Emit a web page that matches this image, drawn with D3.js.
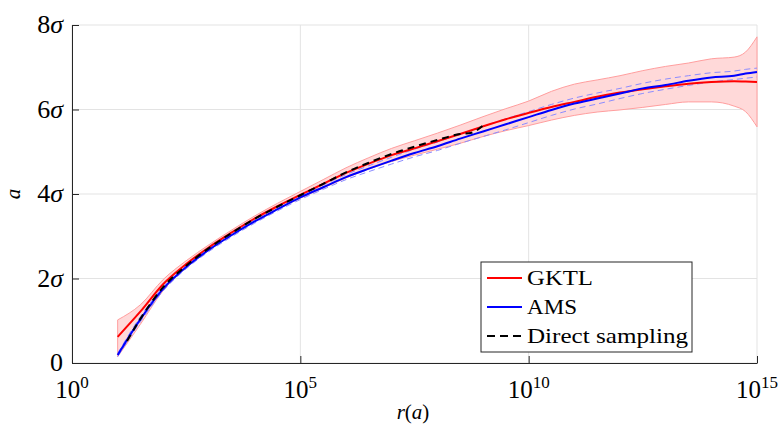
<!DOCTYPE html>
<html>
<head>
<meta charset="utf-8">
<script src="https://cdn.jsdelivr.net/npm/d3@7"></script>
<style>
  html, body { margin: 0; padding: 0; background: #fff; }
  svg { display: block; }
  text { font-family: "Liberation Serif", "DejaVu Serif", serif; fill: #000; }
</style>
</head>
<body>
<svg id="chart" width="780" height="430"></svg>
<script>
// r grid (half-decade steps) shared by the GKTL and AMS estimates
const rGrid = [1e1, 3.16e1, 1e2, 3.16e2, 1e3, 3.16e3, 1e4, 3.16e4, 1e5, 3.16e5,
  1e6, 3.16e6, 1e7, 3.16e7, 1e8, 3.16e8, 1e9, 3.16e9, 1e10, 3.16e10,
  1e11, 3.16e11, 1e12, 3.16e12, 1e13, 3.16e13, 1e14, 3.16e14, 5.62e14, 1e15];

// return level a (in units of sigma)
const gktl = [0.62, 1.22, 1.87, 2.34, 2.74, 3.09, 3.42, 3.71, 3.98, 4.24,
  4.50, 4.72, 4.92, 5.08, 5.25, 5.42, 5.60, 5.77, 5.92, 6.06,
  6.18, 6.30, 6.40, 6.48, 6.55, 6.61, 6.65, 6.67, 6.66, 6.65];
const gktlLo = [0.15, 0.92, 1.72, 2.26, 2.67, 3.03, 3.36, 3.64, 3.90, 4.14,
  4.38, 4.59, 4.77, 4.92, 5.06, 5.20, 5.36, 5.50, 5.62, 5.75,
  5.86, 5.94, 5.99, 6.05, 6.12, 6.18, 6.18, 6.08, 5.95, 5.59];
const gktlHi = [1.02, 1.38, 1.98, 2.42, 2.80, 3.15, 3.48, 3.78, 4.06, 4.34,
  4.62, 4.86, 5.08, 5.26, 5.44, 5.63, 5.83, 6.02, 6.20, 6.43,
  6.60, 6.70, 6.80, 6.92, 7.02, 7.10, 7.20, 7.24, 7.36, 7.72];

const ams = [0.19, 1.04, 1.76, 2.27, 2.68, 3.03, 3.35, 3.64, 3.92, 4.16,
  4.40, 4.60, 4.79, 4.97, 5.13, 5.31, 5.48, 5.65, 5.82, 5.99,
  6.14, 6.26, 6.38, 6.50, 6.58, 6.68, 6.76, 6.80, 6.85, 6.89];
const amsLo = [0.15, 0.98, 1.71, 2.23, 2.64, 2.99, 3.31, 3.60, 3.87, 4.11,
  4.34, 4.53, 4.71, 4.88, 5.03, 5.20, 5.36, 5.52, 5.69, 5.86,
  6.01, 6.13, 6.26, 6.38, 6.48, 6.57, 6.65, 6.71, 6.74, 6.77];
const amsHi = [0.23, 1.10, 1.81, 2.31, 2.72, 3.07, 3.39, 3.68, 3.97, 4.21,
  4.46, 4.67, 4.87, 5.06, 5.23, 5.42, 5.60, 5.78, 5.95, 6.12,
  6.27, 6.39, 6.50, 6.62, 6.72, 6.80, 6.87, 6.91, 6.95, 6.98];

// direct sampling only reaches r ~ 1e9
const rDirect = [1.6e1, 3.16e1, 1e2, 3.16e2, 1e3, 3.16e3, 1e4, 3.16e4, 1e5, 3.16e5,
  1e6, 3.16e6, 1e7, 3.16e7, 1e8, 3.16e8, 5.62e8, 1e9];
const direct = [0.52, 1.05, 1.80, 2.30, 2.72, 3.08, 3.41, 3.70, 3.97, 4.24,
  4.51, 4.74, 4.95, 5.12, 5.28, 5.42, 5.45, 5.62];

const xTickValues = [1e0, 1e5, 1e10, 1e15];
const xTickExponents = ["0", "5", "10", "15"];
const yTickValues = [0, 2, 4, 6, 8];
const yTickLabels = ["0", "2", "4", "6", "8"];

const legendNames = ["GKTL", "AMS", "Direct sampling"];
const legendColors = ["#ff0000", "#0000ff", "#000000"];
const legendTextWidths = [66, 50, 161];

const svg = d3.select("#chart");
const L = 72, R = 757, T = 25, B = 363;

const x = d3.scaleLog().domain([1e0, 1e15]).range([L, R]);
const y = d3.scaleLinear().domain([0, 8]).range([B, T]);

// grid
const grid = svg.append("g").attr("stroke", "#e3e3e3").attr("stroke-width", 1);
xTickValues.forEach(v => grid.append("line")
  .attr("x1", x(v)).attr("x2", x(v)).attr("y1", T).attr("y2", B));
yTickValues.forEach(v => grid.append("line")
  .attr("x1", L).attr("x2", R).attr("y1", y(v)).attr("y2", y(v)));

const curve = d3.curveMonotoneX;

// GKTL confidence band
const band = d3.area()
  .curve(curve)
  .x((d, i) => x(rGrid[i]))
  .y0((d, i) => y(gktlLo[i]))
  .y1((d, i) => y(gktlHi[i]));
svg.append("path").datum(gktl)
  .attr("d", band)
  .attr("fill", "#ffd9d9")
  .attr("stroke", "#ff9e9e")
  .attr("stroke-width", 1);

const lineOn = (xs) => d3.line().curve(curve).x((d, i) => x(xs[i])).y(d => y(d));

// AMS spread (thin dashed)
[amsLo, amsHi].forEach(s => svg.append("path").datum(s)
  .attr("d", lineOn(rGrid))
  .attr("fill", "none")
  .attr("stroke", "#8c8cff")
  .attr("stroke-width", 1)
  .attr("stroke-dasharray", "6,4"));

svg.append("path").datum(gktl)
  .attr("d", lineOn(rGrid))
  .attr("fill", "none").attr("stroke", "#ff0000").attr("stroke-width", 2);

svg.append("path").datum(ams)
  .attr("d", lineOn(rGrid))
  .attr("fill", "none").attr("stroke", "#0000ff").attr("stroke-width", 2);

svg.append("path").datum(direct)
  .attr("d", lineOn(rDirect))
  .attr("fill", "none").attr("stroke", "#000").attr("stroke-width", 2)
  .attr("stroke-dasharray", "7,5");

// axes (inward ticks)
const xAxis = d3.axisBottom(x).tickValues(xTickValues).tickSizeInner(-7).tickSizeOuter(0).tickFormat("");
const yAxis = d3.axisLeft(y).tickValues(yTickValues).tickSizeInner(-7).tickSizeOuter(0).tickFormat("");
const gx = svg.append("g").attr("transform", `translate(0,${B})`).call(xAxis);
const gy = svg.append("g").attr("transform", `translate(${L},0)`).call(yAxis);
[gx, gy].forEach(g => {
  g.select(".domain").attr("stroke", "#262626").attr("stroke-width", 1);
  g.selectAll(".tick line").attr("stroke", "#262626").attr("stroke-width", 1);
});

// x tick labels 10^k
xTickValues.forEach((v, i) => {
  const t = svg.append("text")
    .attr("x", x(v)).attr("y", 398)
    .attr("text-anchor", "middle")
    .attr("font-size", 25);
  t.append("tspan").text("10");
  t.append("tspan").attr("dy", -10).attr("font-size", 17).text(xTickExponents[i]);
});

// y tick labels
yTickValues.forEach((v, i) => {
  const t = svg.append("text")
    .attr("x", 63).attr("y", y(v) + 8)
    .attr("text-anchor", "end")
    .attr("font-size", 26);
  t.append("tspan").text(yTickLabels[i]);
  if (v !== 0) t.append("tspan").attr("font-style", "italic").text("σ");
});

// axis titles
const xt = svg.append("text").attr("x", 413).attr("y", 419)
  .attr("text-anchor", "middle").attr("font-size", 21);
xt.append("tspan").attr("font-style", "italic").text("r");
xt.append("tspan").text("(");
xt.append("tspan").attr("font-style", "italic").text("a");
xt.append("tspan").text(")");

svg.append("text")
  .attr("transform", "translate(20,194) rotate(-90)")
  .attr("text-anchor", "middle")
  .attr("font-size", 21)
  .attr("font-style", "italic")
  .text("a");

// legend
const lg = svg.append("g");
lg.append("rect")
  .attr("x", 481).attr("y", 262).attr("width", 211).attr("height", 90)
  .attr("fill", "#fff").attr("stroke", "#262626").attr("stroke-width", 1);
legendNames.forEach((name, i) => {
  const cy = 278 + i * 29;
  lg.append("line")
    .attr("x1", 487).attr("x2", 522).attr("y1", cy).attr("y2", cy)
    .attr("stroke", legendColors[i]).attr("stroke-width", 2)
    .attr("stroke-dasharray", i === 2 ? "8,5" : null);
  lg.append("text")
    .attr("x", 527).attr("y", cy + 7)
    .attr("font-size", 22)
    .attr("textLength", legendTextWidths[i])
    .attr("lengthAdjust", "spacingAndGlyphs")
    .text(name);
});
</script>
</body>
</html>
